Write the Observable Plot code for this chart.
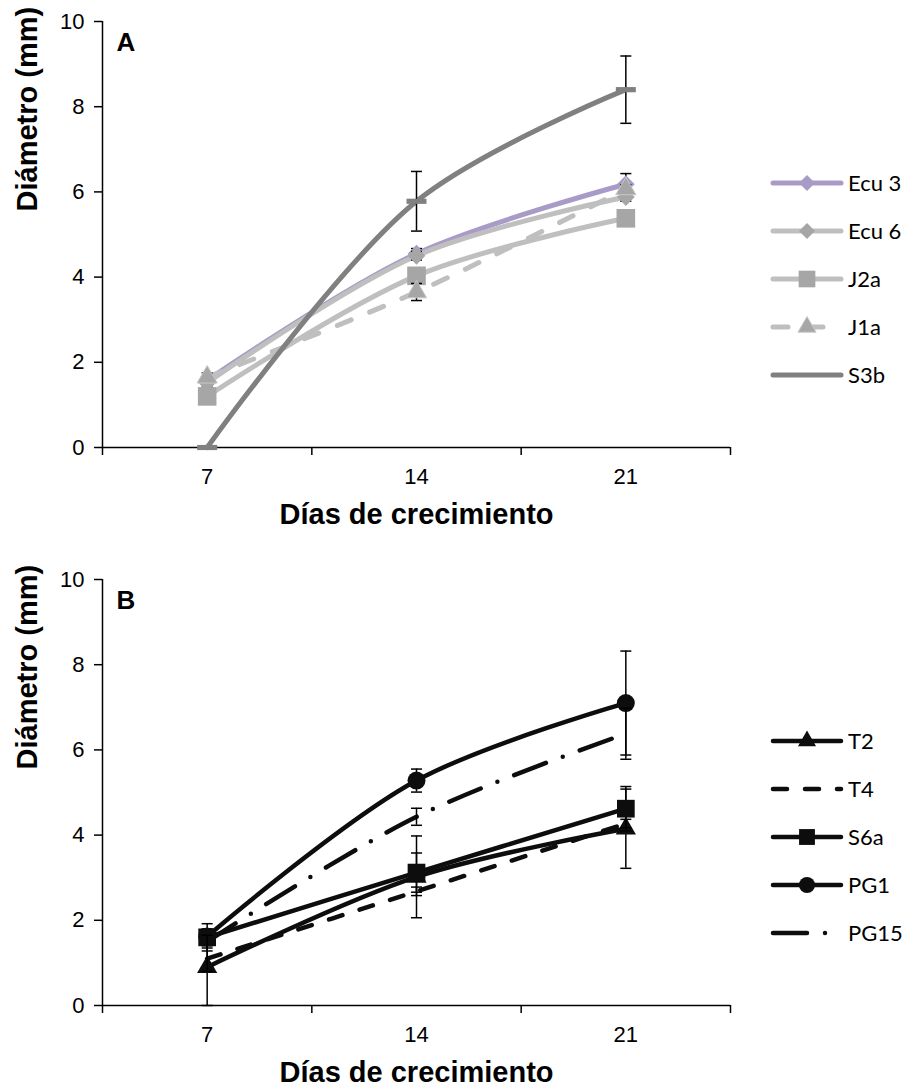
<!DOCTYPE html>
<html><head><meta charset="utf-8">
<script src="https://cdn.jsdelivr.net/npm/d3@7"></script>
<script src="https://cdn.jsdelivr.net/npm/@observablehq/plot@0.6"></script>
<style>
body{margin:0;background:#fff;}
#root{position:relative;width:909px;height:1092px;overflow:hidden;}
.panel{position:absolute;left:0;width:909px;}
</style></head><body><div id="root"></div><script>
// ---------- data ----------
const days = [7, 14, 21];
const xTickBounds = [3.5, 10.5, 17.5, 24.5];
const yTicks = [0, 2, 4, 6, 8, 10];

// Panel A
const seriesA = ["Ecu 3", "Ecu 6", "J2a", "J1a", "S3b"];
const ecu3Val = [1.58, 4.55, 6.18];  const ecu3Err = [0.1, 0.12, 0.25];
const ecu6Val = [1.52, 4.5, 5.88];   const ecu6Err = [0.1, 0.1, 0.1];
const j2aVal  = [1.2, 4.03, 5.38];   const j2aErr  = [0.1, 0.1, 0.1];
const j1aVal  = [1.65, 3.65, 6.07];  const j1aErr  = [0.1, 0.2, 0.1];
const s3bVal  = [0, 5.78, 8.4];      const s3bErr  = [0, 0.7, 0.79];

// Panel B
const seriesB = ["T2", "T4", "S6a", "PG1", "PG15"];
const t2Val   = [0.9, 3.02, 4.15];   const t2Err   = [0.9, 0.96, 0.93];
const t4Val   = [1.1, 2.68, 4.27];   const t4Err   = [0.3, 0.1, 0.1];
const s6aVal  = [1.6, 3.12, 4.62];   const s6aErr  = [0.32, 0.46, 0.52];
const pg1Val  = [1.62, 5.28, 7.1];   const pg1Err  = [0.15, 0.27, 1.22];
const pg15Val = [1.5, 4.43, 6.38];   const pg15Err = [0.15, 0.2, 0.6];

const valuesA = {"Ecu 3": [ecu3Val, ecu3Err], "Ecu 6": [ecu6Val, ecu6Err], "J2a": [j2aVal, j2aErr], "J1a": [j1aVal, j1aErr], "S3b": [s3bVal, s3bErr]};
const valuesB = {"T2": [t2Val, t2Err], "T4": [t4Val, t4Err], "S6a": [s6aVal, s6aErr], "PG1": [pg1Val, pg1Err], "PG15": [pg15Val, pg15Err]};

// ---------- styles ----------
const dashSymbol = {draw(ctx, size) { const r = Math.sqrt(size / Math.PI); ctx.rect(-r, -r * 0.26, 2 * r, r * 0.52); }};
const capSymbol = {draw(ctx, size) { const r = Math.sqrt(size / Math.PI); ctx.moveTo(-r, 0); ctx.lineTo(r, 0); }};

const LG = "#BFBFBF", MG = "#A6A6A6", BK = "#0D0D0D";
const styleA = {
  "Ecu 3": {stroke: "#A99BC7", width: 5, dash: null, symbol: "diamond2", fill: "#A99BC7", r: 8, d3sym: d3.symbolDiamond2},
  "Ecu 6": {stroke: LG, width: 5, dash: null, symbol: "diamond2", fill: MG, r: 8, d3sym: d3.symbolDiamond2},
  "J2a":   {stroke: LG, width: 5, dash: null, symbol: "square", fill: MG, r: 10.5, d3sym: d3.symbolSquare},
  "J1a":   {stroke: LG, width: 5, dash: "15,20", symbol: "triangle", fill: MG, r: 7.5, d3sym: d3.symbolTriangle},
  "S3b":   {stroke: "#808080", width: 5, dash: null, symbol: dashSymbol, fill: "#808080", r: 10, d3sym: null}
};
const styleB = {
  "T2":   {stroke: BK, width: 4.5, dash: null, symbol: "triangle", fill: BK, r: 7.5, d3sym: d3.symbolTriangle},
  "T4":   {stroke: BK, width: 4.5, dash: "14,18", symbol: null, fill: BK, r: 0, d3sym: null},
  "S6a":  {stroke: BK, width: 4.5, dash: null, symbol: "square", fill: BK, r: 10, d3sym: d3.symbolSquare},
  "PG1":  {stroke: BK, width: 4.5, dash: null, symbol: "circle", fill: BK, r: 9, d3sym: d3.symbolCircle},
  "PG15": {stroke: BK, width: 4.5, dash: "34,18,0,18", symbol: null, fill: BK, r: 0, d3sym: null}
};

function rowsOf(name, vals) {
  const [v, e] = vals[name];
  return days.map((d, i) => ({series: name, day: d, value: v[i], err: e[i]}));
}

function panel(letter, names, vals, styles, height, marginBottom) {
  const marks = [
    Plot.ruleX([3.5], {stroke: "black", strokeWidth: 1.5}),
    Plot.ruleY([0], {stroke: "black", strokeWidth: 1.5}),
    Plot.axisY(yTicks, {tickSize: 8, tickPadding: 10, fontSize: 22, label: null, strokeWidth: 1.5}),
    Plot.axisX(xTickBounds, {tickSize: 8, tickFormat: () => "", label: null, strokeWidth: 1.5}),
    Plot.axisX(days, {tickSize: 0, tickPadding: 21, fontSize: 22, label: null})
  ];
  for (const n of names) {
    const s = styles[n];
    const rows = rowsOf(n, vals);
    marks.push(Plot.line(rows, {x: "day", y: "value", curve: "catmull-rom", stroke: s.stroke, strokeWidth: s.width,
      strokeDasharray: s.dash || undefined, strokeLinecap: "round", strokeLinejoin: "round"}));
    const er = rows.filter(d => d.err > 0);
    marks.push(Plot.ruleX(er, {x: "day", y1: d => d.value - d.err, y2: d => d.value + d.err, stroke: "black", strokeWidth: 1.5}));
    marks.push(Plot.dot(er, {x: "day", y: d => d.value - d.err, symbol: capSymbol, r: 5.5, stroke: "black", strokeWidth: 1.5, fill: "none"}));
    marks.push(Plot.dot(er, {x: "day", y: d => d.value + d.err, symbol: capSymbol, r: 5.5, stroke: "black", strokeWidth: 1.5, fill: "none"}));
    if (s.symbol) {
      marks.push(Plot.dot(rows, {x: "day", y: "value", symbol: s.symbol, r: s.r, fill: s.fill, stroke: n === "J1a" ? "#C8C8C8" : "none", strokeWidth: 1}));
    }
  }
  marks.push(Plot.text([letter], {frameAnchor: "top-left", dx: 14, dy: 21, fontSize: 26, fontWeight: "bold", textAnchor: "start", lineAnchor: "middle", fill: "black"}));
  marks.push(Plot.text(["Diámetro (mm)"], {frameAnchor: "left", rotate: -90, dx: -75, dy: -23, fontSize: 29, fontWeight: "bold", fill: "black"}));
  marks.push(Plot.text(["Días de crecimiento"], {frameAnchor: "bottom", dy: 67, lineAnchor: "middle", fontSize: 29, fontWeight: "bold", fill: "black"}));
  return Plot.plot({
    width: 909, height, marginLeft: 102, marginRight: 179, marginTop: 21, marginBottom,
    x: {domain: [3.5, 24.5]}, y: {domain: [0, 10]},
    style: {fontFamily: "'Liberation Sans', Arial, sans-serif", color: "black", background: "white", overflow: "visible"},
    marks
  });
}

function legend(container, names, styles) {
  const L = 740;
  const svg = d3.select(container).append("svg").attr("width", 169).attr("height", 460)
    .style("position", "absolute").style("left", L + "px").style("top", "0px").style("overflow", "visible");
  names.forEach((n, i) => {
    const s = styles[n];
    const y = 183 + 48 * i;
    const g = svg.append("g").attr("transform", `translate(0,${y})`);
    g.append("line").attr("x1", 773 - L).attr("x2", 841 - L).attr("y1", 0).attr("y2", 0)
      .attr("stroke", s.stroke).attr("stroke-width", s.width).attr("stroke-linecap", "round")
      .attr("stroke-dasharray", s.dash || null);
    if (s.d3sym) {
      g.append("path").attr("transform", `translate(${807 - L},0)`)
        .attr("d", d3.symbol(s.d3sym, Math.PI * s.r * s.r * 0.8)())
        .attr("fill", s.fill).attr("stroke", n === "J1a" ? "#C8C8C8" : "none");
    }
    g.append("text").attr("x", 848 - L).attr("y", 0).attr("dy", "0.36em")
      .attr("font-family", "Lato, 'Open Sans', sans-serif").attr("font-size", 22).attr("fill", "black").text(n);
  });
}

const root = document.getElementById("root");
const pA = document.createElement("div"); pA.className = "panel"; pA.style.top = "0px"; pA.style.height = "558px";
const pB = document.createElement("div"); pB.className = "panel"; pB.style.top = "558px"; pB.style.height = "534px";
root.appendChild(pA); root.appendChild(pB);
pA.appendChild(panel("A", seriesA, valuesA, styleA, 558, 111));
pB.appendChild(panel("B", seriesB, valuesB, styleB, 534, 87));
legend(pA, seriesA, styleA);
legend(pB, seriesB, styleB);
</script></body></html>
